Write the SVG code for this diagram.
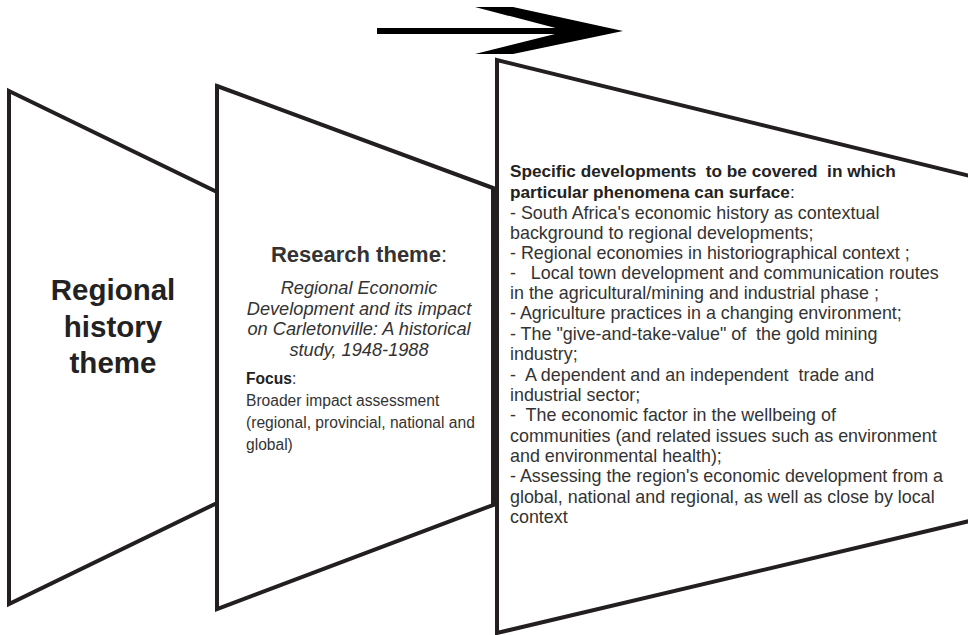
<svg xmlns="http://www.w3.org/2000/svg" width="968" height="635" viewBox="0 0 968 635">
<style>
.shape{fill:#fff;stroke:#231f20;stroke-width:4;stroke-linejoin:miter}
text{font-family:"Liberation Sans",Arial,sans-serif;fill:#333;white-space:pre}
.big{font-size:29.5px;font-weight:bold;fill:#222;text-anchor:middle}
.rt{font-size:22px;font-weight:bold;fill:#333;text-anchor:middle}
.it{font-size:18.2px;font-style:italic;text-anchor:middle}
.fo{font-size:15.6px}
.b{font-weight:bold;fill:#222}
.body{font-size:17.9px}
.hd{font-size:17.2px;font-weight:bold;fill:#222}
</style>
<g id="arrow">
<rect x="377" y="28" width="192" height="6" fill="#000"/>
<polygon points="475,7 513,7 623,31 513,54 475,54 567,31" fill="#000"/>
</g>
<g id="node-regional">
<polygon class="shape" points="9,91 217,192 217,503 9,604"/>
<text class="big" x="113" y="300">Regional</text>
<text class="big" x="113" y="337">history</text>
<text class="big" x="113" y="373">theme</text>
</g>
<g id="node-research">
<polygon class="shape" points="217,86 493,188 493,505 217,609"/>
<text class="rt" x="359" y="262">Research theme<tspan font-weight="normal">:</tspan></text>
<text class="it" x="359" y="294">Regional Economic</text>
<text class="it" x="359" y="315">Development and its impact</text>
<text class="it" x="359" y="335">on Carletonville: A historical</text>
<text class="it" x="359" y="356">study, 1948-1988</text>
<text class="fo" x="246" y="384"><tspan class="b">Focus</tspan>:</text>
<text class="fo" x="246" y="406">Broader impact assessment</text>
<text class="fo" x="246" y="428">(regional, provincial, national and</text>
<text class="fo" x="246" y="450">global)</text>
</g>
<g id="node-specific">
<path class="shape" d="M974,177 L497,60 L497,633 L974,520"/>
<text class="hd" x="510" y="177">Specific developments  to be covered  in which</text>
<text class="hd" x="510" y="198">particular phenomena can surface<tspan font-weight="normal">:</tspan></text>
<text class="body" x="510" y="219">- South Africa's economic history as contextual</text>
<text class="body" x="510" y="239">background to regional developments;</text>
<text class="body" x="510" y="259">- Regional economies in historiographical context ;</text>
<text class="body" x="510" y="279">-   Local town development and communication routes</text>
<text class="body" x="510" y="299">in the agricultural/mining and industrial phase ;</text>
<text class="body" x="510" y="319">- Agriculture practices in a changing environment;</text>
<text class="body" x="510" y="340">- The "give-and-take-value" of  the gold mining</text>
<text class="body" x="510" y="360">industry;</text>
<text class="body" x="510" y="381">-  A dependent and an independent  trade and</text>
<text class="body" x="510" y="401">industrial sector;</text>
<text class="body" x="510" y="421">-  The economic factor in the wellbeing of</text>
<text class="body" x="510" y="442">communities (and related issues such as environment</text>
<text class="body" x="510" y="462">and environmental health);</text>
<text class="body" x="510" y="482">- Assessing the region's economic development from a</text>
<text class="body" x="510" y="503">global, national and regional, as well as close by local</text>
<text class="body" x="510" y="523">context</text>
</g>
</svg>
